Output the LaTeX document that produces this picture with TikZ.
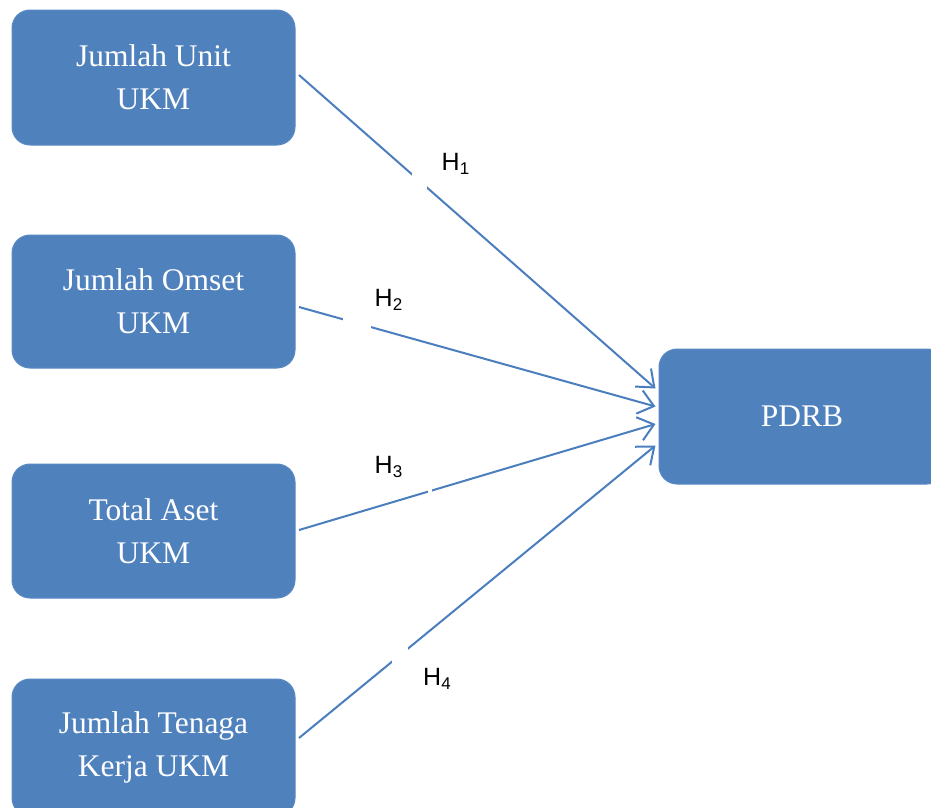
\documentclass[tikz,border=0pt]{standalone}
\usepackage{fontspec}
\setmainfont{Liberation Serif}
\newfontfamily\arialf{Liberation Sans}
\usetikzlibrary{arrows.meta,calc}
\definecolor{boxblue}{HTML}{4F81BD}
\definecolor{boxedge}{HTML}{5A8AC4}
\definecolor{linkblue}{HTML}{4A7EBF}
\begin{document}
\begin{tikzpicture}[x=1pt,y=-1pt,
  box/.style={fill=boxblue, draw=boxedge, line width=1pt, rounded corners=18pt,
    minimum width=283pt, text=white, align=center,
    font=\fontsize{31.5}{43}\selectfont, inner sep=0pt},
  arr/.style={draw=linkblue, line width=2pt, -{Straight Barb[length=15pt,width=24pt]}},
  hlab/.style={font=\arialf\fontsize{25}{25}\selectfont, inner sep=0pt, anchor=base west},
  gap/.style={fill=white, draw=none}]
\useasboundingbox (0,0) rectangle (931,807);
\fill[white] (0,0) rectangle (931,807);
\node[box, minimum height=135pt] (n1) at (153.5,77.5) {Jumlah Unit\\UKM};
\node[box, minimum height=133pt] (n2) at (153.5,301.5) {Jumlah Omset\\UKM};
\node[box, minimum height=134pt] (n3) at (153.5,531) {Total Aset\\UKM};
\node[box, minimum height=137pt] (n4) at (153.5,747.5) {Jumlah Tenaga\\Kerja UKM};
\node[box, minimum width=286pt, minimum height=135pt] (pd) at (802,416.5) {PDRB};
\draw[arr] ($(n1.east)+(3.5,-2.5)$) -- ($(pd.west)+(-3,-28)$);
\draw[arr] ($(n2.east)+(3.5,5.5)$) -- ($(pd.west)+(-3,-10)$);
\draw[arr] ($(n3.east)+(3.5,-1)$) -- ($(pd.west)+(-3,7.5)$);
\draw[arr] ($(n4.east)+(3.5,-9.5)$) -- ($(pd.west)+(-3,29)$);
\fill[gap] (411.5,160) rectangle (426.5,200);
\fill[gap] (343,312) rectangle (371,333);
\fill[gap] (428,482) rectangle (432,500);
\fill[gap] (392,640) rectangle (408,670);
\node[hlab] (h1) at (441.5,170) {H\raisebox{-4pt}{\fontsize{17}{17}\selectfont 1}};
\node[hlab] (h2) at (374.5,306.5) {H\raisebox{-4pt}{\fontsize{17}{17}\selectfont 2}};
\node[hlab] (h3) at (374.5,473.5) {H\raisebox{-4pt}{\fontsize{17}{17}\selectfont 3}};
\node[hlab] (h4) at (423,685) {H\raisebox{-4pt}{\fontsize{17}{17}\selectfont 4}};
\end{tikzpicture}
\end{document}
